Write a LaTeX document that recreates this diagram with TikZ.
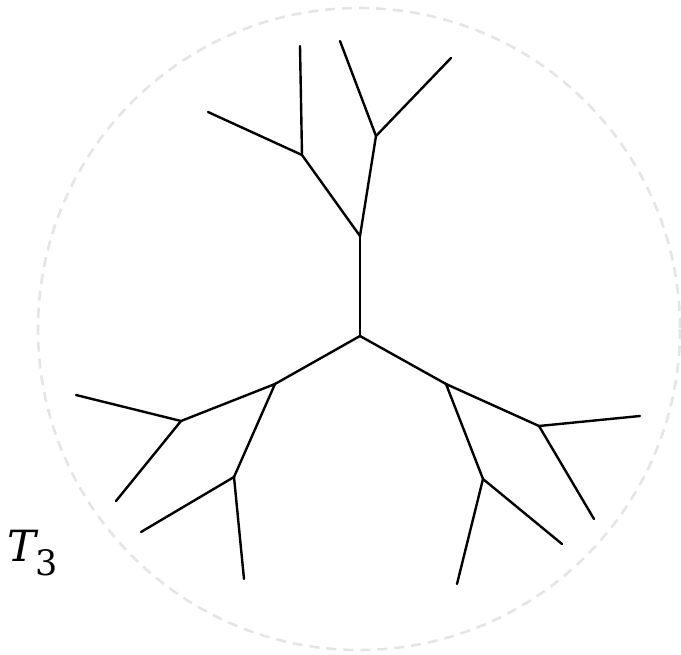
\documentclass[tikz,border=0pt]{standalone}
\usepackage{fontspec}
\newfontfamily\labfont{DejaVu Serif}
\begin{document}
\begin{tikzpicture}[x=1pt,y=-1pt,
  edge/.style={line width=2.4pt, line cap=round},
  ring/.style={draw=black!10, line width=2.6pt, dash pattern=on 10pt off 7pt}]
\useasboundingbox (0,0) rectangle (681,655);
\draw[ring] (359,329) circle[radius=321];
% internal nodes
\coordinate (R) at (360,336);
\coordinate (U) at (360,236);
\coordinate (A) at (302,155);
\coordinate (B) at (376,136);
\coordinate (L) at (275,384);
\coordinate (C) at (181,421);
\coordinate (D) at (234,477);
\coordinate (Rt) at (446,384);
\coordinate (E) at (539,426);
\coordinate (F) at (483,479);
% leaves
\coordinate (a1) at (208,112);
\coordinate (a2) at (300,46);
\coordinate (b1) at (340,41);
\coordinate (b2) at (451,58);
\coordinate (c1) at (76,395);
\coordinate (c2) at (116,501);
\coordinate (d1) at (141,532);
\coordinate (d2) at (244,579);
\coordinate (e1) at (640,416);
\coordinate (e2) at (594,519);
\coordinate (f1) at (562,544);
\coordinate (f2) at (457,584);
\draw[edge] (R) -- (U);
\draw[edge] (R) -- (L);
\draw[edge] (R) -- (Rt);
\draw[edge] (a1) -- (A) -- (U) -- (B) -- (b2);
\draw[edge] (a2) -- (A);
\draw[edge] (b1) -- (B);
\draw[edge] (c1) -- (C) -- (L) -- (D) -- (d2);
\draw[edge] (c2) -- (C);
\draw[edge] (d1) -- (D);
\draw[edge] (e1) -- (E) -- (Rt) -- (F) -- (f1);
\draw[edge] (e2) -- (E);
\draw[edge] (f2) -- (F);
\node[anchor=base west, inner sep=0pt, font=\labfont\fontsize{43}{50}\selectfont] (lab) at (7,561)
  {\itshape T\raisebox{-14pt}{\upshape\fontsize{35}{40}\selectfont 3}};
\end{tikzpicture}
\end{document}
